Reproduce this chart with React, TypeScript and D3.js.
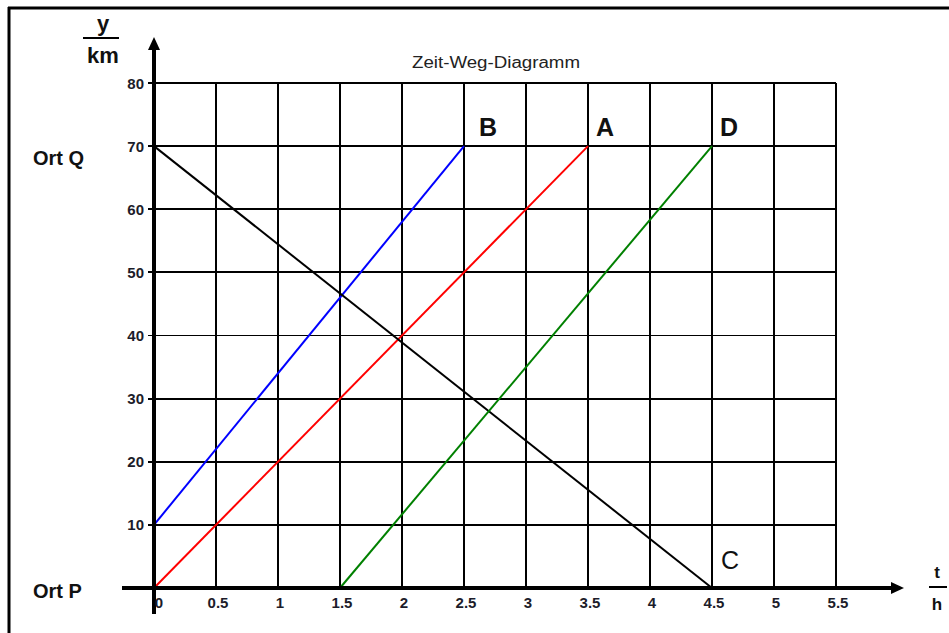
import React from "react";
import * as d3 from "d3";

// Time ticks (h) and distance ticks (km)
const timeTicks = [0, 0.5, 1, 1.5, 2, 2.5, 3, 3.5, 4, 4.5, 5, 5.5];
const timeTickLabels = ["0", "0.5", "1", "1.5", "2", "2.5", "3", "3.5", "4", "4.5", "5", "5.5"];
const distTicks = [10, 20, 30, 40, 50, 60, 70, 80];

// Motion lines: [time h, position km]
const lineA: [number, number][] = [[0, 0], [3.5, 70]];
const lineB: [number, number][] = [[0, 10], [2.5, 70]];
const lineC: [number, number][] = [[0, 70], [4.5, 0]];
const lineD: [number, number][] = [[1.5, 0], [4.5, 70]];

const seriesNames = ["A", "B", "C", "D"];
const seriesData = [lineA, lineB, lineC, lineD];
const seriesColors = ["#ff0000", "#0000ff", "#000000", "#008000"];

const W = 949;
const H = 633;

export default function App() {
  const x = d3.scaleLinear().domain([0, 5.5]).range([154, 836]);
  const y = d3.scaleLinear().domain([0, 80]).range([588, 83]);
  const line = d3
    .line<[number, number]>()
    .x((d) => x(d[0]))
    .y((d) => y(d[1]));

  const sans = "'Liberation Sans', Arial, Helvetica, sans-serif";

  return (
    <svg
      width={W}
      height={H}
      style={{ position: "absolute", left: 0, top: 0, background: "#fff" }}
      fontFamily={sans}
    >
      {/* frame */}
      <line x1={8} y1={8} x2={W} y2={8} stroke="#000" strokeWidth={3} />
      <line x1={9} y1={7} x2={9} y2={H} stroke="#000" strokeWidth={3} />

      {/* grid */}
      <g stroke="#000" strokeWidth={1.8} shapeRendering="crispEdges">
        {timeTicks.filter((t) => t > 0).map((t) => (
          <line key={"v" + t} x1={x(t)} x2={x(t)} y1={y(0)} y2={y(80)} />
        ))}
        {distTicks.map((d) => (
          <line key={"h" + d} x1={x(0)} x2={x(5.5)} y1={y(d)} y2={y(d)} />
        ))}
        {distTicks.map((d) => (
          <line key={"t" + d} x1={x(0) - 6} x2={x(0)} y1={y(d)} y2={y(d)} />
        ))}
      </g>

      {/* series */}
      {seriesData.map((s, i) => (
        <path
          key={seriesNames[i]}
          d={line(s) || ""}
          fill="none"
          stroke={seriesColors[i]}
          strokeWidth={2}
        />
      ))}

      {/* axes */}
      <line x1={x(0)} x2={x(0)} y1={614} y2={48} stroke="#000" strokeWidth={4} />
      <path d={`M${x(0)},37 L${x(0) - 6},50 L${x(0) + 6},50 Z`} fill="#000" />
      <line x1={122} x2={892} y1={y(0)} y2={y(0)} stroke="#000" strokeWidth={4} />
      <path d={`M904,${y(0)} L891,${y(0) - 6} L891,${y(0) + 6} Z`} fill="#000" />

      {/* tick labels */}
      <g fontSize={15} fontWeight="bold" fill="#1c1c2a">
        {distTicks.map((d) => (
          <text key={"yl" + d} x={144} y={y(d)} textAnchor="end" dominantBaseline="central">
            {d}
          </text>
        ))}
        {timeTicks.map((t, i) => (
          <text key={"xl" + t} x={x(t) + (t === 0 ? 5 : 2)} y={608} textAnchor="middle">
            {timeTickLabels[i]}
          </text>
        ))}
      </g>

      {/* title */}
      <text x={496} y={68} textAnchor="middle" fontSize={16} fill="#222" textLength={168} lengthAdjust="spacingAndGlyphs">
        Zeit-Weg-Diagramm
      </text>

      {/* line labels */}
      <g fontSize={25} fill="#111">
        <text x={x(2.5) + 24} y={136} textAnchor="middle" fontWeight="bold">B</text>
        <text x={x(3.5) + 17} y={136} textAnchor="middle" fontWeight="bold">A</text>
        <text x={x(4.5) + 17} y={136} textAnchor="middle" fontWeight="bold">D</text>
        <text x={x(4.5) + 18} y={569} textAnchor="middle">C</text>
      </g>

      {/* place labels */}
      <g fontSize={20} fontWeight="bold" fill="#111">
        <text x={33} y={165}>Ort Q</text>
        <text x={33} y={598}>Ort P</text>
      </g>

      {/* axis units */}
      <g fontWeight="bold" fill="#111" textAnchor="middle">
        <text x={103} y={31} fontSize={22}>y</text>
        <line x1={83} x2={119} y1={38} y2={38} stroke="#000" strokeWidth={2} />
        <text x={103} y={63} fontSize={22}>km</text>
        <text x={937} y={578} fontSize={17}>t</text>
        <line x1={929} x2={947} y1={587} y2={587} stroke="#000" strokeWidth={2} />
        <text x={937} y={610} fontSize={17}>h</text>
      </g>
    </svg>
  );
}
